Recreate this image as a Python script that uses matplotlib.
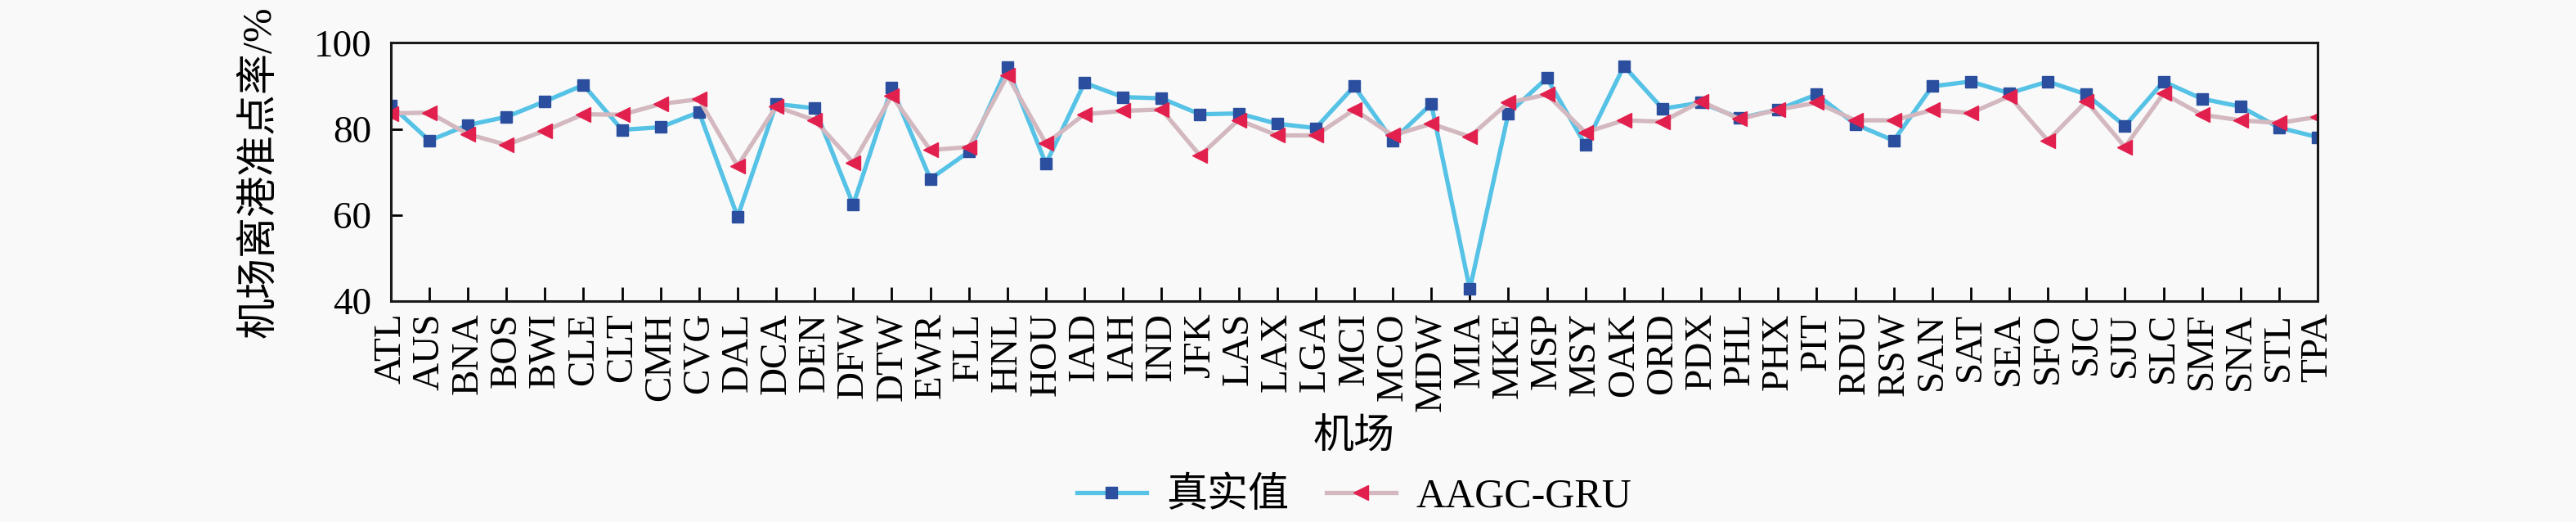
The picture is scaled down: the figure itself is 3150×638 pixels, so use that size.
import matplotlib
matplotlib.use("Agg")
import matplotlib.pyplot as plt

airports = ["ATL", "AUS", "BNA", "BOS", "BWI", "CLE", "CLT", "CMH", "CVG", "DAL",
            "DCA", "DEN", "DFW", "DTW", "EWR", "FLL", "HNL", "HOU", "IAD", "IAH",
            "IND", "JFK", "LAS", "LAX", "LGA", "MCI", "MCO", "MDW", "MIA", "MKE",
            "MSP", "MSY", "OAK", "ORD", "PDX", "PHL", "PHX", "PIT", "RDU", "RSW",
            "SAN", "SAT", "SEA", "SFO", "SJC", "SJU", "SLC", "SMF", "SNA", "STL", "TPA"]
real = [85.5, 77.3, 80.9, 82.8, 86.4, 90.2, 79.8, 80.4, 83.9, 59.6,
        85.8, 84.8, 62.4, 89.6, 68.4, 74.7, 94.3, 71.9, 90.7, 87.4,
        87.1, 83.4, 83.6, 81.2, 80.2, 89.9, 77.3, 85.8, 42.8, 83.6,
        91.8, 76.3, 94.6, 84.7, 86.1, 82.5, 84.5, 88.0, 81.1, 77.3,
        89.9, 91.0, 88.3, 91.0, 88.0, 80.7, 91.0, 87.0, 85.2, 80.3, 78.1]
aagc_gru = [83.6, 83.8, 78.8, 76.3, 79.6, 83.4, 83.3, 85.8, 86.9, 71.4,
            85.2, 82.0, 72.2, 87.7, 75.1, 75.8, 92.4, 76.6, 83.4, 84.2,
            84.5, 73.8, 82.1, 78.5, 78.5, 84.5, 78.5, 81.2, 78.2, 86.1,
            88.0, 79.2, 82.0, 81.7, 86.4, 82.3, 84.5, 86.1, 82.0, 82.0,
            84.4, 83.7, 87.6, 77.3, 86.4, 75.8, 88.2, 83.3, 82.0, 81.4, 82.8]
yticks = [40, 60, 80, 100]

plt.rcParams["font.family"] = ["Liberation Serif", "Noto Sans CJK SC"]
plt.rcParams["font.size"] = 34
plt.rcParams["axes.unicode_minus"] = False

bg = "#f9f9f9"
fig = plt.figure(figsize=(31.5, 6.38), dpi=100, facecolor=bg)
ax = fig.add_axes([0.1517, 0.423, 0.748, 0.495], facecolor=bg)

x = list(range(len(airports)))
ax.plot(x, real, color="#55c2e6", lw=3.8, marker="s", ms=10,
        mfc="#2b4f9e", mec="#2b4f9e", label="真实值")
ax.plot(x, aagc_gru, color="#d3b8bf", lw=3.8, marker="<", ms=13,
        mfc="#e2204e", mec="#e2204e", label="AAGC-GRU")

ax.set_xlim(0, len(airports) - 1)
ax.set_ylim(40, 100)
ax.set_xticks(x)
ax.set_xticklabels(airports, rotation=90)
ax.set_yticks(yticks)

for s in ax.spines.values():
    s.set_linewidth(2.2)
    s.set_color("#1a1a1a")
ax.tick_params(axis="x", direction="in", length=12, width=2, pad=10)
ax.tick_params(axis="y", direction="in", length=10, width=2, pad=17)

ax.set_xlabel("机场", fontsize=36)
ax.xaxis.set_label_coords(0.5, -0.455)
ax.set_ylabel("机场离港准点率/%", fontsize=36)
ax.yaxis.set_label_coords(-0.058, 0.5)

ax.legend(loc="center", bbox_to_anchor=(0.5, -0.756), ncol=2, frameon=False,
          fontsize=36, handlelength=1.7, handletextpad=0.5, columnspacing=0.9)

fig.savefig("out.png", dpi=100, facecolor=bg)
